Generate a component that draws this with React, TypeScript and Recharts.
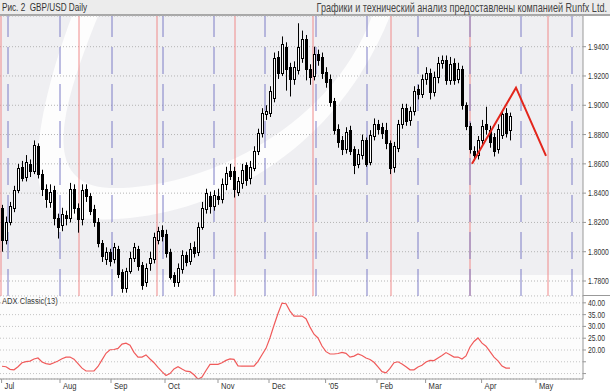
import { Bar, CartesianGrid, ComposedChart, Line, ReferenceLine, XAxis, YAxis } from "recharts";

// GBP/USD daily, Jul 2004 - Apr 2005
const open = [
  1.830, 1.808, 1.820, 1.830, 1.842, 1.858, 1.851, 1.860, 1.855, 1.872,
  1.853, 1.843, 1.834, 1.842, 1.823, 1.818, 1.825, 1.823, 1.843, 1.830,
  1.822, 1.843, 1.838, 1.829, 1.820, 1.806, 1.795, 1.800, 1.795, 1.802,
  1.786, 1.775, 1.787, 1.796, 1.802, 1.791, 1.779, 1.792, 1.795, 1.808,
  1.815, 1.812, 1.800, 1.784, 1.779, 1.788, 1.798, 1.794, 1.803, 1.800,
  1.817, 1.829, 1.838, 1.831, 1.838, 1.836, 1.846, 1.855, 1.855, 1.841,
  1.847, 1.859, 1.850, 1.857, 1.869, 1.881, 1.894, 1.895, 1.905, 1.933,
  1.922, 1.940, 1.926, 1.918, 1.924, 1.932, 1.945, 1.925, 1.920, 1.935,
  1.933, 1.923, 1.918, 1.903, 1.884, 1.876, 1.870, 1.883, 1.870, 1.860,
  1.866, 1.876, 1.861, 1.879, 1.887, 1.885, 1.883, 1.874, 1.858, 1.871,
  1.887, 1.898, 1.890, 1.896, 1.911, 1.908, 1.918, 1.922, 1.909, 1.919,
  1.929, 1.931, 1.917, 1.929, 1.918, 1.925, 1.900, 1.886, 1.869, 1.866,
  1.876, 1.887, 1.883, 1.878, 1.870, 1.880, 1.895, 1.883,
];
const high = [
  1.832, 1.824, 1.834, 1.845, 1.860, 1.862, 1.866, 1.863, 1.876, 1.874,
  1.856, 1.846, 1.846, 1.845, 1.826, 1.830, 1.828, 1.847, 1.846, 1.833,
  1.846, 1.846, 1.840, 1.832, 1.823, 1.808, 1.803, 1.802, 1.806, 1.804,
  1.788, 1.789, 1.800, 1.806, 1.804, 1.793, 1.792, 1.800, 1.813, 1.817,
  1.818, 1.815, 1.802, 1.786, 1.792, 1.801, 1.800, 1.806, 1.807, 1.820,
  1.834, 1.843, 1.841, 1.842, 1.843, 1.850, 1.858, 1.860, 1.858, 1.851,
  1.860, 1.861, 1.862, 1.872, 1.884, 1.898, 1.900, 1.913, 1.936, 1.937,
  1.947, 1.943, 1.929, 1.930, 1.956, 1.951, 1.948, 1.928, 1.940, 1.938,
  1.936, 1.926, 1.921, 1.905, 1.887, 1.879, 1.885, 1.886, 1.872, 1.870,
  1.880, 1.878, 1.883, 1.891, 1.890, 1.888, 1.888, 1.876, 1.875, 1.890,
  1.901, 1.901, 1.899, 1.913, 1.914, 1.921, 1.926, 1.925, 1.923, 1.933,
  1.934, 1.934, 1.933, 1.932, 1.929, 1.927, 1.902, 1.888, 1.872, 1.879,
  1.890, 1.899, 1.886, 1.881, 1.887, 1.896, 1.898, 1.895,
];
const low = [
  1.800, 1.805, 1.818, 1.827, 1.840, 1.848, 1.848, 1.851, 1.853, 1.850,
  1.838, 1.830, 1.830, 1.818, 1.809, 1.814, 1.818, 1.820, 1.826, 1.813,
  1.818, 1.834, 1.825, 1.817, 1.803, 1.793, 1.791, 1.790, 1.792, 1.782,
  1.772, 1.772, 1.785, 1.793, 1.787, 1.774, 1.776, 1.787, 1.792, 1.805,
  1.807, 1.796, 1.781, 1.776, 1.776, 1.785, 1.790, 1.791, 1.796, 1.797,
  1.815, 1.826, 1.826, 1.828, 1.832, 1.833, 1.842, 1.849, 1.837, 1.838,
  1.843, 1.845, 1.846, 1.855, 1.866, 1.878, 1.890, 1.892, 1.902, 1.918,
  1.920, 1.910, 1.906, 1.914, 1.921, 1.929, 1.917, 1.914, 1.917, 1.927,
  1.918, 1.912, 1.899, 1.880, 1.871, 1.866, 1.867, 1.866, 1.853, 1.857,
  1.863, 1.858, 1.859, 1.876, 1.880, 1.877, 1.870, 1.853, 1.854, 1.868,
  1.884, 1.886, 1.886, 1.893, 1.904, 1.905, 1.914, 1.904, 1.906, 1.915,
  1.925, 1.914, 1.914, 1.914, 1.915, 1.897, 1.883, 1.867, 1.862, 1.863,
  1.873, 1.880, 1.871, 1.865, 1.867, 1.877, 1.878, 1.876,
];
const close = [
  1.808, 1.820, 1.831, 1.842, 1.857, 1.850, 1.861, 1.855, 1.873, 1.853,
  1.843, 1.836, 1.841, 1.823, 1.817, 1.826, 1.823, 1.843, 1.830, 1.822,
  1.842, 1.838, 1.828, 1.820, 1.806, 1.797, 1.800, 1.794, 1.803, 1.785,
  1.775, 1.787, 1.796, 1.803, 1.790, 1.777, 1.789, 1.796, 1.810, 1.814,
  1.811, 1.799, 1.783, 1.779, 1.789, 1.798, 1.793, 1.802, 1.799, 1.817,
  1.830, 1.840, 1.831, 1.839, 1.836, 1.846, 1.854, 1.852, 1.843, 1.848,
  1.856, 1.849, 1.858, 1.869, 1.881, 1.895, 1.896, 1.910, 1.932, 1.922,
  1.942, 1.925, 1.918, 1.926, 1.940, 1.945, 1.925, 1.919, 1.935, 1.931,
  1.922, 1.916, 1.902, 1.883, 1.875, 1.870, 1.882, 1.869, 1.859, 1.867,
  1.876, 1.860, 1.880, 1.887, 1.884, 1.881, 1.874, 1.857, 1.872, 1.887,
  1.898, 1.889, 1.896, 1.910, 1.908, 1.918, 1.922, 1.909, 1.919, 1.929,
  1.931, 1.917, 1.928, 1.917, 1.925, 1.900, 1.886, 1.870, 1.866, 1.876,
  1.886, 1.884, 1.875, 1.869, 1.884, 1.894, 1.881, 1.893,
];
// ADX Classic(13)
const adx = [
  13.1, 12.9, 11.8, 11.6, 12.9, 14.6, 15.1, 15.3, 16.2, 16.6,
  14.9, 14.2, 13.9, 14.6, 15.3, 16.3, 17.0, 17.0, 16.1, 14.2,
  12.3, 11.1, 11.1, 11.1, 13.0, 15.8, 18.6, 20.1, 20.2, 20.7,
  22.5, 22.9, 22.0, 19.0, 17.0, 17.0, 17.9, 16.2, 14.6, 12.6,
  10.8, 9.2, 10.0, 12.0, 12.9, 11.9, 11.0, 10.8, 9.5, 7.6,
  8.5, 11.3, 13.9, 13.9, 13.9, 14.6, 15.6, 16.2, 16.0, 13.3,
  13.2, 13.2, 13.2, 13.2, 15.2, 18.0, 20.7, 25.2, 30.5, 35.5,
  39.9, 39.6, 36.5, 34.4, 34.4, 34.4, 33.3, 29.7, 26.7, 25.1,
  21.7, 19.3, 18.3, 18.3, 18.5, 19.0, 18.6, 17.0, 17.4, 18.3,
  17.7, 16.6, 16.0, 14.8, 12.8, 10.8, 10.3, 12.2, 14.6, 15.0,
  14.1, 12.9, 11.6, 11.6, 12.8, 13.5, 14.9, 15.6, 15.5, 16.6,
  17.7, 18.9, 18.0, 17.0, 17.0, 16.2, 17.5, 21.3, 23.6, 25.1,
  22.9, 21.6, 19.3, 17.0, 15.4, 13.2, 12.3, 12.3,
];

const monthTicks = [-0.1, 14.5, 27.25, 40.75, 54, 66.75, 80.9, 93.75, 105.9, 119.9, 133.5];
const monthLabels = ["Jul", "Aug", "Sep", "Oct", "Nov", "Dec", "'05", "Feb", "Mar", "Apr", "May"];
const priceTicks = [1.78, 1.8, 1.82, 1.84, 1.86, 1.88, 1.9, 1.92, 1.94];
const adxTicks = [10, 15, 20, 25, 30, 35, 40];
const blueLines = [1.5, 14.5, 27.5, 40.25, 53, 65.75, 78.5, 91.25, 104, 117, 129.75, 142.5];
const redLines = [-0.25, 19.25, 38.75, 58.25, 77.75, 97.25, 117, 136.5];
const waveIdx = [117.5, 128.5, 136];
const waveVal = [1.86, 1.912, 1.8655];

const rows = close.map((c, i) => ({
  i,
  o: open[i],
  h: high[i],
  l: low[i],
  c,
  range: [low[i], high[i]],
  adx: adx[i],
}));
const wave = waveIdx.map((i, k) => ({ i, v: waveVal[k] }));

const FONT = "'Liberation Sans', Arial, sans-serif";
const X_DOMAIN = [-0.5, 145.25];
const PRICE_DOMAIN = [1.76976, 1.96096];

// narrow text: the original uses a condensed screen font
const Narrow = ({ x, y, size, sx, fill = "#333", anchor = "start", children }: any) => (
  <text
    x={0}
    y={0}
    fontSize={size}
    fill={fill}
    fontFamily={FONT}
    textAnchor={anchor}
    transform={`translate(${x},${y}) scale(${sx},1)`}
  >
    {children}
  </text>
);

const Candle = (props: any) => {
  const { x, y, width, height, payload } = props;
  if (!payload) return null;
  const { o, h, l, c } = payload;
  const yTop = Math.min(y, y + height);
  const yBot = Math.max(y, y + height);
  const py = (v: number) => yTop + ((h - v) / (h - l)) * (yBot - yTop);
  const cx = Math.round(x + width / 2) + 0.5;
  const bTop = Math.round(py(Math.max(o, c))) + 0.5;
  const bBot = Math.max(Math.round(py(Math.min(o, c))) + 0.5, bTop + 1);
  const up = c >= o;
  return (
    <g>
      <line x1={cx} x2={cx} y1={yTop} y2={yBot} stroke="#000" strokeWidth={1} />
      <rect x={cx - 1} y={bTop} width={2} height={bBot - bTop} fill={up ? "#fff" : "#000"} stroke="#000" strokeWidth={1} />
    </g>
  );
};

const PriceTick = ({ x, y, payload }: any) => (
  <Narrow x={x} y={y + 3} size={8.5} sx={0.8}>
    {Number(payload.value).toFixed(4)}
  </Narrow>
);

const AdxTick = ({ x, y, payload }: any) =>
  payload.value >= 20 ? (
    <Narrow x={x} y={y + 3} size={8.5} sx={0.8}>
      {Number(payload.value).toFixed(2)}
    </Narrow>
  ) : null;

const MonthTick = ({ x, y, payload }: any) => (
  <Narrow x={x + 3} y={y + 6} size={9.5} sx={0.8}>
    {monthLabels[monthTicks.indexOf(payload.value)] ?? ""}
  </Narrow>
);

const Backdrop = () => (
  <svg width={610} height={392} style={{ position: "absolute", left: 0, top: 0 }}>
    <rect x={0} y={0} width={610} height={392} fill="#fff" />
    <rect x={0} y={0} width={610} height={15} fill="#ececec" />
    <rect x={0} y={16} width={583} height={280} fill="#efeff2" />
    <path d="M 72 16 C 40 100, 20 200, 60 215 C 150 235, 320 190, 390 16 Z" fill="#fdfdfd" />
    <path d="M 98 16 C 60 110, 40 185, 110 188 C 200 190, 330 130, 372 16 Z" fill="#efeff2" />
    <rect x={0} y={275} width={583} height={21} fill="#fcfcfc" />
    <rect x={0} y={296} width={583} height={83} fill="#fcfcfc" />
    <line x1={0} x2={610} y1={15} y2={15} stroke="#a8a8a8" strokeWidth={2} />
    <line x1={583} x2={610} y1={295.5} y2={295.5} stroke="#999" strokeWidth={1} />
    <Narrow x={2} y={11} size={10.5} sx={0.78}>
      {"Рис. 2\u00a0 GBP/USD Daily"}
    </Narrow>
    <Narrow x={607} y={12} size={12.5} sx={0.728} fill="#444" anchor="end">
      Графики и технический анализ предоставлены компанией Runfx Ltd.
    </Narrow>
    <Narrow x={2} y={304} size={9.5} sx={0.8}>
      ADX Classic(13)
    </Narrow>
  </svg>
);

export default function App() {
  return (
    <div style={{ position: "absolute", left: 0, top: 0, width: 610, height: 392 }}>
      <Backdrop />
      {/* cycle lines, drawn under the candles */}
      <div style={{ position: "absolute", left: 0, top: 0 }}>
        <ComposedChart width={610} height={296} data={rows} margin={{ top: 16, right: 27, bottom: 0, left: 0 }}>
          <CartesianGrid vertical={false} stroke="#b4b4b4" strokeDasharray="1 2" />
          <XAxis dataKey="i" type="number" domain={X_DOMAIN} hide allowDataOverflow />
          <YAxis domain={PRICE_DOMAIN} ticks={priceTicks} interval={0} hide allowDataOverflow />
          {redLines.map((v) => (
            <ReferenceLine key={"r" + v} x={v} stroke="#f08a8a" strokeWidth={1} />
          ))}
          {blueLines.map((v) => (
            <ReferenceLine key={"b" + v} x={v} stroke="#7d7dc6" strokeWidth={1} strokeDasharray="27 10" />
          ))}
        </ComposedChart>
      </div>
      <div style={{ position: "absolute", left: 0, top: 0 }}>
        <ComposedChart width={610} height={296} data={rows} margin={{ top: 16, right: 0, bottom: 0, left: 0 }}>
          <XAxis dataKey="i" type="number" domain={X_DOMAIN} hide allowDataOverflow />
          <YAxis
            orientation="right"
            width={27}
            domain={PRICE_DOMAIN}
            ticks={priceTicks}
            interval={0}
            allowDataOverflow
            tick={<PriceTick />}
            tickSize={3}
            tickMargin={2}
            stroke="#999"
          />
          <Bar dataKey="range" barSize={3} shape={(p: any) => <Candle {...p} />} isAnimationActive={false} />
          <Line
            data={wave}
            dataKey="v"
            type="linear"
            stroke="#e3261c"
            strokeWidth={2}
            dot={false}
            activeDot={false}
            isAnimationActive={false}
          />
        </ComposedChart>
      </div>
      <div style={{ position: "absolute", left: 0, top: 296 }}>
        <ComposedChart width={610} height={96} data={rows} margin={{ top: 0, right: 0, bottom: 0, left: 0 }}>
          <CartesianGrid vertical={false} stroke="#c4c4c4" strokeDasharray="1 2" />
          <XAxis
            dataKey="i"
            type="number"
            domain={X_DOMAIN}
            ticks={monthTicks}
            interval={0}
            height={13}
            tick={<MonthTick />}
            tickSize={4}
            tickMargin={0}
            stroke="#999"
            allowDataOverflow
          />
          <YAxis
            orientation="right"
            width={27}
            domain={[7.7, 42.9]}
            ticks={adxTicks}
            interval={0}
            allowDataOverflow
            tick={<AdxTick />}
            tickSize={3}
            tickMargin={2}
            stroke="#999"
          />
          <Line dataKey="adx" type="linear" stroke="#f05a5a" strokeWidth={1.2} dot={false} activeDot={false} isAnimationActive={false} />
        </ComposedChart>
      </div>
    </div>
  );
}
